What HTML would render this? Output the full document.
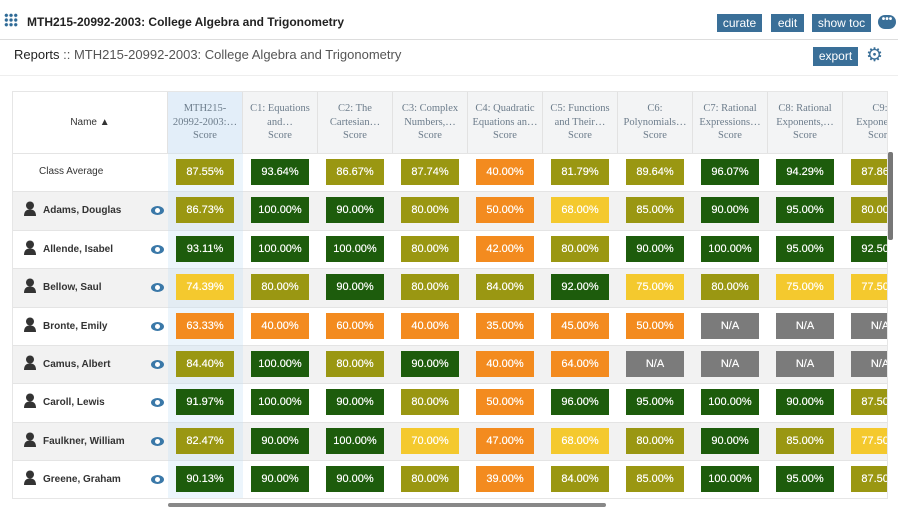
<!DOCTYPE html>
<html><head><meta charset="utf-8"><style>
body{margin:0;width:898px;height:513px;overflow:hidden;background:#fff;font-family:"Liberation Sans",sans-serif;position:relative}
.abs{position:absolute}
.btn{position:absolute;background:#3a6f98;color:#fff;font-size:12px;height:18px;line-height:18px;text-align:center}
.hdr{position:absolute;top:91px;height:61px;font-family:"Liberation Serif",serif;font-size:10.5px;color:#6c7c8b;text-align:center;line-height:13.5px;box-sizing:border-box;padding-top:10px;border-right:1px solid #e2e2e2;overflow:hidden;white-space:nowrap}
.cell{position:absolute;height:26px;width:58px;color:#fff;font-size:11px;line-height:26px;text-align:center;text-shadow:0 0 0.4px #fff}
.name{position:absolute;font-size:10px;font-weight:bold;color:#333}
</style></head><body>
<div class="abs" style="left:4px;top:13px;width:14px;height:14px;background:radial-gradient(circle,#2e6a96 1.6px,transparent 1.8px) 0 0/4.7px 4.7px"></div>
<div class="abs" style="left:27px;top:15px;font-size:12px;font-weight:bold;color:#222">MTH215-20992-2003: College Algebra and Trigonometry</div>
<div class="btn" style="left:717px;top:14px;width:45px">curate</div>
<div class="btn" style="left:771px;top:14px;width:33px">edit</div>
<div class="btn" style="left:812px;top:14px;width:59px">show toc</div>
<div class="abs" style="left:878px;top:15px;width:18px;height:14px;border-radius:7px;background:#3a6f98;color:#fff;font-size:10px;line-height:10px;text-align:center;font-weight:bold">•••</div>
<div class="abs" style="left:0;top:39px;width:898px;height:1px;background:#ddd"></div>
<div class="abs" style="left:14px;top:47px;font-size:13px;color:#555"><span style="color:#222">Reports</span> :: MTH215-20992-2003: College Algebra and Trigonometry</div>
<div class="btn" style="left:813px;top:47px;width:45px;height:19px;line-height:19px">export</div>
<div class="abs" style="left:866px;top:46px;font-size:19px;color:#3a6f98;line-height:19px">⚙</div>
<div class="abs" style="left:0;top:75px;width:898px;height:1px;background:#eee"></div>
<div id="tbl" class="abs" style="left:12px;top:91px;width:876px;height:408px;border:1px solid #e6e6e6;box-sizing:border-box;overflow:hidden"></div>
<div class="abs" style="left:168px;top:503px;width:438px;height:4px;border-radius:2px;background:#888"></div>
<div class="abs" style="left:888px;top:152px;width:5px;height:88px;border-radius:2px;background:#777"></div>
<script>
const headers=[["MTH215-","20992-2003:…"],["C1: Equations","and…"],["C2: The","Cartesian…"],["C3: Complex","Numbers,…"],["C4: Quadratic","Equations an…"],["C5: Functions","and Their…"],["C6:","Polynomials…"],["C7: Rational","Expressions…"],["C8: Rational","Exponents,…"],["C9:","Exponen…"]];
const names=["Adams, Douglas","Allende, Isabel","Bellow, Saul","Bronte, Emily","Camus, Albert","Caroll, Lewis","Faulkner, William","Greene, Graham"];
const classAvg=[87.55,93.64,86.67,87.74,40.00,81.79,89.64,96.07,94.29,87.86];
const scores=[
[86.73,100,90,80,50,68,85,90,95,80],
[93.11,100,100,80,42,80,90,100,95,92.5],
[74.39,80,90,80,84,92,75,80,75,77.5],
[63.33,40,60,40,35,45,50,null,null,null],
[84.40,100,80,90,40,64,null,null,null,null],
[91.97,100,90,80,50,96,95,100,90,87.5],
[82.47,90,100,70,47,68,80,90,85,77.5],
[90.13,90,90,80,39,84,85,100,95,87.5]];
const T=document.getElementById('tbl');
const colX=i=>155+i*75, rowY=r=>61+(r)*38.4, colW=75;
function color(v){if(v==null)return'#7b7b7b';if(v>=90)return'#1d5c0c';if(v>=80)return'#9a9712';if(v>=65)return'#f4c92e';return'#f38b1f';}
function add(tag,cls,style,txt){const e=document.createElement(tag);if(cls)e.className=cls;e.style.cssText=style;if(txt!=null)e.innerHTML=txt;T.appendChild(e);return e;}
for(let r=0;r<9;r++){const bg=(r%2==1)?'#f2f2f2':'#fff';
const rb=add('div','abs',`left:0;top:${rowY(r)}px;width:880px;height:38.4px;background:${bg};border-top:1px solid #e4e4e4;box-sizing:border-box`);

}
const sc=add('div','abs',`left:${colX(0)}px;top:0;width:${colW}px;height:410px;background:rgba(200,225,245,0.35)`);


const nh=add('div','abs','left:0;top:0;width:155px;height:61px;border-right:1px solid #e2e2e2;box-sizing:border-box;font-size:10px;color:#333;text-align:center;line-height:61px','Name &#9650;');


headers.forEach((h,i)=>{const e=add('div','hdr',`left:${colX(i)}px;top:0;width:${colW}px;background:${i==0?'#e3eef9':'#f3f4f5'}`,h[0]+'<br>'+h[1]+'<br>Score');

});
const ca=add('div','name',`left:26px;top:${rowY(0)+13}px;font-weight:normal;font-size:10px`,'Class Average');


function cells(vals,r){vals.forEach((v,i)=>{const c=add('div','cell',`left:${colX(i)+8}px;top:${rowY(r)+6}px;background:${color(v)}`,v==null?'N/A':v.toFixed(2)+'%');

});}
cells(classAvg,0);
names.forEach((n,k)=>{const r=k+1;
const ic=add('div','abs',`left:10px;top:${rowY(r)+10}px;width:14px;height:16px`,'<svg width="14" height="16"><circle cx="7" cy="4.5" r="4" fill="#333"/><path d="M1 15 Q1 8.5 7 8.5 Q13 8.5 13 15Z" fill="#333"/></svg>');


const nm=add('div','name',`left:30px;top:${rowY(r)+14}px`,n);


const ey=add('div','abs',`left:138px;top:${rowY(r)+15}px;width:13px;height:9px;border-radius:50%;background:#3a78a8`,'<div style="margin:2px auto;width:5px;height:5px;border-radius:50%;background:#fff"></div>');


cells(scores[k],r);});
</script>
</body></html>
